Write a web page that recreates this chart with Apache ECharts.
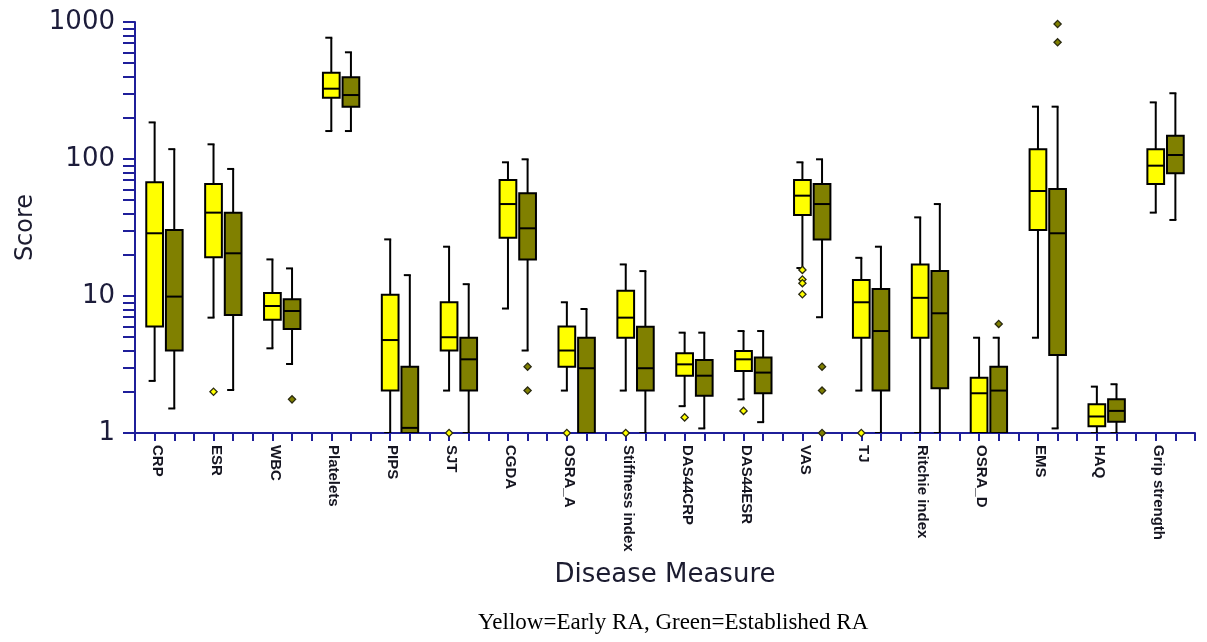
<!DOCTYPE html>
<html>
<head>
<meta charset="utf-8">
<script src="https://cdn.jsdelivr.net/npm/echarts@6/dist/echarts.min.js"></script>
<style>
  html, body { margin: 0; padding: 0; background: #ffffff; }
  #chart { width: 1207px; height: 642px; }
</style>
</head>
<body>
<div id="chart"></div>
<script>
// Disease measures along the x axis
const categories = [
  'CRP', 'ESR', 'WBC', 'Platelets', 'PIPS', 'SJT', 'CGDA', 'OSRA_A',
  'Stiffness index', 'DAS44CRP', 'DAS44ESR', 'VAS', 'TJ', 'Ritchie index',
  'OSRA_D', 'EMS', 'HAQ', 'Grip strength'
];

// Box statistics per measure: [low whisker, Q1, median, Q3, high whisker]
const earlyRA = [
  [2.4, 6.0, 28.7, 67.6, 185],
  [6.95, 19.2, 40.6, 65.7, 128],
  [4.15, 6.7, 8.45, 10.5, 18.5],
  [160, 280, 326, 427, 768],
  [1, 2.04, 4.77, 10.2, 25.9],
  [2.04, 4.0, 5.0, 9.0, 22.9],
  [8.1, 26.6, 46.9, 70.3, 94.6],
  [2.04, 3.05, 4.0, 6.0, 9.0],
  [2.04, 4.96, 6.95, 10.9, 17.0],
  [1.57, 2.62, 3.17, 3.82, 5.4],
  [1.76, 2.84, 3.45, 3.97, 5.55],
  [16, 39, 54, 70.3, 94.6],
  [2.04, 4.96, 9.0, 13.1, 19.0],
  [1, 4.96, 9.7, 17.0, 37.5],
  [1, 1, 1.95, 2.53, 4.96],
  [4.96, 30.3, 58.4, 118, 241],
  [1, 1.12, 1.32, 1.62, 2.18],
  [40.6, 65.7, 89.4, 118, 259]
];

const establishedRA = [
  [1.51, 4.0, 9.9, 30.3, 118],
  [2.06, 7.27, 20.5, 40.6, 84.6],
  [3.19, 5.74, 7.77, 9.46, 15.9],
  [160, 241, 293, 395, 601],
  [1, 1, 1.09, 3.05, 14.2],
  [1, 2.04, 3.45, 4.96, 12.2],
  [4.0, 18.5, 31.2, 56.2, 99.5],
  [1, 1, 2.97, 4.96, 8.04],
  [1, 2.04, 2.97, 5.97, 15.2],
  [1.08, 1.87, 2.62, 3.41, 5.4],
  [1.2, 1.95, 2.76, 3.55, 5.55],
  [7.0, 25.9, 46.9, 65.7, 99.5],
  [1, 2.04, 5.55, 11.25, 22.9],
  [1, 2.12, 7.48, 15.2, 46.9],
  [1, 1, 2.04, 3.05, 4.96],
  [1.08, 3.71, 28.7, 60.4, 241],
  [1, 1.21, 1.45, 1.76, 2.27],
  [35.9, 78.6, 107, 148, 302]
];

// Outliers: [measure index, value]
const earlyOutliers = [
  [1, 2.0], [5, 1], [7, 1], [8, 1], [9, 1.30], [10, 1.45],
  [11, 15.5], [11, 13.2], [11, 12.4], [11, 10.3], [12, 1]
];
const establishedOutliers = [
  [2, 1.76], [6, 3.05], [6, 2.04], [11, 3.05], [11, 2.04], [11, 1],
  [14, 6.25], [15, 967], [15, 711]
];

// Log axis labels and tick marks (1..9 within each decade)
const yTickLabels = [1, 10, 100, 1000];
const yTickMarks = [];
for (let d = 1; d < 1000; d *= 10) {
  for (let k = 1; k < 10; k++) yTickMarks.push(k * d);
}
yTickMarks.push(1000);

const AXIS_COLOR = '#1f1f9a';
const EARLY_COLOR = '#ffff00';
const ESTABLISHED_COLOR = '#808000';

function boxRenderer(side, fill) {
  return function (params, api) {
    const idx = api.value(0);
    const bw = api.size([1, 0])[0];
    const x = api.coord([idx, 1])[0] + side * bw / 6;
    const yLow = api.coord([idx, api.value(1)])[1];
    const yQ1 = api.coord([idx, api.value(2)])[1];
    const yMed = api.coord([idx, api.value(3)])[1];
    const yQ3 = api.coord([idx, api.value(4)])[1];
    const yHigh = api.coord([idx, api.value(5)])[1];
    const half = bw * 0.142;
    const line = { stroke: '#000', lineWidth: 2, fill: null };
    return {
      type: 'group',
      children: [
        { type: 'line', shape: { x1: x, y1: yQ3, x2: x, y2: yHigh }, style: line },
        { type: 'line', shape: { x1: x - 6, y1: yHigh, x2: x + 1, y2: yHigh }, style: line },
        { type: 'line', shape: { x1: x, y1: yQ1, x2: x, y2: yLow }, style: line },
        { type: 'line', shape: { x1: x - 6, y1: yLow, x2: x + 1, y2: yLow }, style: line },
        {
          type: 'rect',
          shape: { x: x - half, y: yQ3, width: half * 2, height: yQ1 - yQ3 },
          style: { fill: fill, stroke: '#000', lineWidth: 2 }
        },
        { type: 'line', shape: { x1: x - half, y1: yMed, x2: x + half, y2: yMed }, style: line }
      ]
    };
  };
}

function outlierRenderer(side, fill) {
  return function (params, api) {
    const idx = api.value(0);
    const bw = api.size([1, 0])[0];
    const p = api.coord([idx, api.value(1)]);
    const x = p[0] + side * bw / 6;
    const y = p[1];
    const r = 3.6;
    return {
      type: 'polygon',
      shape: { points: [[x, y - r], [x + r, y], [x, y + r], [x - r, y]] },
      style: { fill: fill, stroke: '#2a2a10', lineWidth: 1.3 }
    };
  };
}

const chart = echarts.init(document.getElementById('chart'));

chart.setOption({
  animation: false,
  backgroundColor: '#ffffff',
  title: {
    text: 'Yellow=Early RA, Green=Established RA',
    left: 478,
    top: 611,
    padding: 0,
    textStyle: {
      fontFamily: 'Liberation Serif',
      fontWeight: 'normal',
      fontSize: 23,
      color: '#000'
    }
  },
  grid: { left: 135, right: 12, top: 22, bottom: 209, containLabel: false },
  xAxis: [
    {
      type: 'category',
      data: categories,
      boundaryGap: true,
      name: 'Disease Measure',
      nameLocation: 'middle',
      nameGap: 129,
      nameTextStyle: { fontFamily: 'DejaVu Sans', fontSize: 26, color: '#1c1c30' },
      axisLine: { show: true, lineStyle: { color: AXIS_COLOR, width: 2 } },
      axisTick: { show: false },
      axisLabel: {
        interval: 0,
        rotate: -90,
        margin: 12,
        verticalAlign: 'top',
        fontFamily: 'Liberation Sans',
        fontWeight: 'bold',
        fontSize: 15,
        color: '#151520'
      },
      splitLine: { show: false }
    },
    {
      type: 'value',
      position: 'bottom',
      min: 0,
      max: 54,
      interval: 1,
      axisLine: { show: false },
      axisTick: { show: true, length: 8, lineStyle: { color: AXIS_COLOR, width: 2 } },
      axisLabel: { show: false },
      splitLine: { show: false }
    }
  ],
  yAxis: {
    type: 'log',
    logBase: 10,
    min: 1,
    max: 1000,
    name: 'Score',
    nameLocation: 'middle',
    nameRotate: 90,
    nameGap: 84,
    nameTextStyle: { fontFamily: 'DejaVu Sans', fontSize: 24, color: '#1c1c30' },
    axisLine: { show: true, lineStyle: { color: AXIS_COLOR, width: 2 } },
    axisTick: {
      show: true,
      length: 12,
      customValues: yTickMarks,
      lineStyle: { color: AXIS_COLOR, width: 2 }
    },
    axisLabel: {
      customValues: yTickLabels,
      formatter: (v) => String(Math.round(v)),
      margin: 20,
      fontFamily: 'DejaVu Sans',
      fontSize: 26,
      color: '#1c1c3a'
    },
    splitLine: { show: false },
    minorTick: { show: false }
  },
  series: [
    {
      name: 'Early RA',
      type: 'custom',
      xAxisIndex: 0,
      renderItem: boxRenderer(-1, EARLY_COLOR),
      encode: { x: 0, y: [1, 2, 3, 4, 5] },
      data: earlyRA.map((s, i) => [i].concat(s)),
      clip: true,
      z: 3
    },
    {
      name: 'Established RA',
      type: 'custom',
      xAxisIndex: 0,
      renderItem: boxRenderer(1, ESTABLISHED_COLOR),
      encode: { x: 0, y: [1, 2, 3, 4, 5] },
      data: establishedRA.map((s, i) => [i].concat(s)),
      clip: true,
      z: 3
    },
    {
      name: 'Early RA outliers',
      type: 'custom',
      xAxisIndex: 0,
      renderItem: outlierRenderer(-1, EARLY_COLOR),
      encode: { x: 0, y: 1 },
      data: earlyOutliers,
      z: 4
    },
    {
      name: 'Established RA outliers',
      type: 'custom',
      xAxisIndex: 0,
      renderItem: outlierRenderer(1, ESTABLISHED_COLOR),
      encode: { x: 0, y: 1 },
      data: establishedOutliers,
      z: 4
    }
  ]
});
</script>
</body>
</html>
